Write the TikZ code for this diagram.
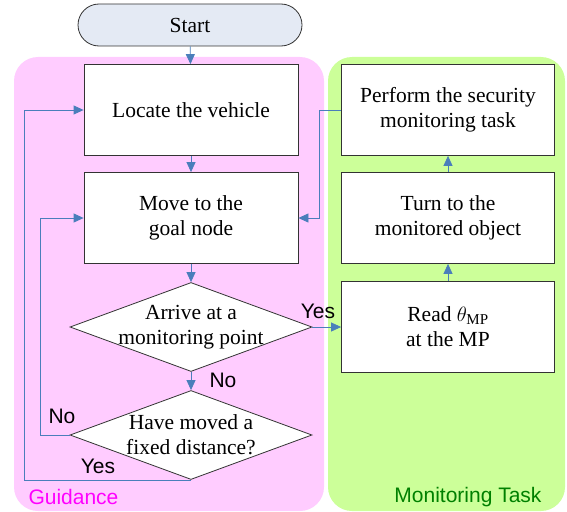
\documentclass[tikz,border=0pt]{standalone}
\usepackage{fontspec}
\setmainfont{Liberation Serif}
\setsansfont{Liberation Sans}
\usetikzlibrary{shapes.geometric,arrows.meta}

\definecolor{guidebg}{HTML}{FFCCFF}
\definecolor{monbg}{HTML}{CCFF99}
\definecolor{startbg}{HTML}{E4EAF4}
\definecolor{flowline}{HTML}{4A7EBB}
\definecolor{guidetxt}{HTML}{FF00FF}
\definecolor{montxt}{HTML}{008000}

\tikzset{
  boxtext/.style={font=\fontsize{21.5}{25}\selectfont, align=center},
  sftext/.style={font=\sffamily\fontsize{21}{23}\selectfont},
}

\begin{document}
\begin{tikzpicture}[x=1pt,y=-1pt]
        \useasboundingbox (0,0) rectangle (567,511);
        % the two lanes
        \fill[guidebg, rounded corners=24pt] (14,57) rectangle (324,511);
        \fill[monbg, rounded corners=24pt] (328,57) rectangle (565,511);
        \node[sftext, text=guidetxt, anchor=west] (guidance) at (25,497) {Guidance};
        \node[sftext, text=montxt, anchor=east] (montask) at (545,497) {Monitoring Task};

        \begin{scope}[every node/.style={boxtext, draw=black!80, line width=0.8pt, fill=white, inner sep=0}]
                \node[fill=startbg, rounded corners=21pt, minimum width=224pt, minimum height=42pt] (start) at (190,25) {Start};
                \node[minimum width=214pt, minimum height=91pt] (locate) at (191,110) {Locate the vehicle};
                \node[minimum width=214pt, minimum height=91pt] (move) at (191,218) {Move to the\\goal node};
                \node[diamond, minimum width=242pt, minimum height=89pt,
                      label={[boxtext, name=arrivetext]center:{Arrive at a\\monitoring point}}] (arrive) at (191,327) {};
                \node[diamond, minimum width=242pt, minimum height=89pt,
                      label={[boxtext, name=disttext]center:{Have moved a\\fixed distance?}}] (dist) at (191,435) {};
                \node[minimum width=213pt, minimum height=91pt] (perform) at (448,110) {Perform the security\\monitoring task};
                \node[minimum width=213pt, minimum height=91pt] (turn) at (448,218) {Turn to the\\monitored object};
                \node[minimum width=213pt, minimum height=91pt] (read) at (448,327) {Read $\theta_{\mathrm{MP}}$\\at the MP};
        \end{scope}

        \node[sftext] (yes1) at (318,311) {Yes};
        \node[sftext] (no1) at (223,380) {No};
        \node[sftext] (no2) at (62,416) {No};
        \node[sftext] (yes2) at (98,466) {Yes};

        \begin{scope}[every path/.style={draw=flowline, line width=0.8pt, -{Triangle[length=10pt,width=9pt]}}]
                \path (start) edge (locate);
                \path (locate) edge (move);
                \path (move) edge (arrive);
                \path (arrive) edge (dist);
                \path (arrive) edge (read);
                \path (read) edge (turn);
                \path (turn) edge (perform);
                \draw (dist.south) -| ([xshift=-59pt]locate.west) -- (locate.west);
                \draw (dist.west) -| ([xshift=-43pt]move.west) -- (move.west);
                \draw (perform.west) -| ([xshift=21pt]move.east) -- (move.east);
        \end{scope}
\end{tikzpicture}
\end{document}
